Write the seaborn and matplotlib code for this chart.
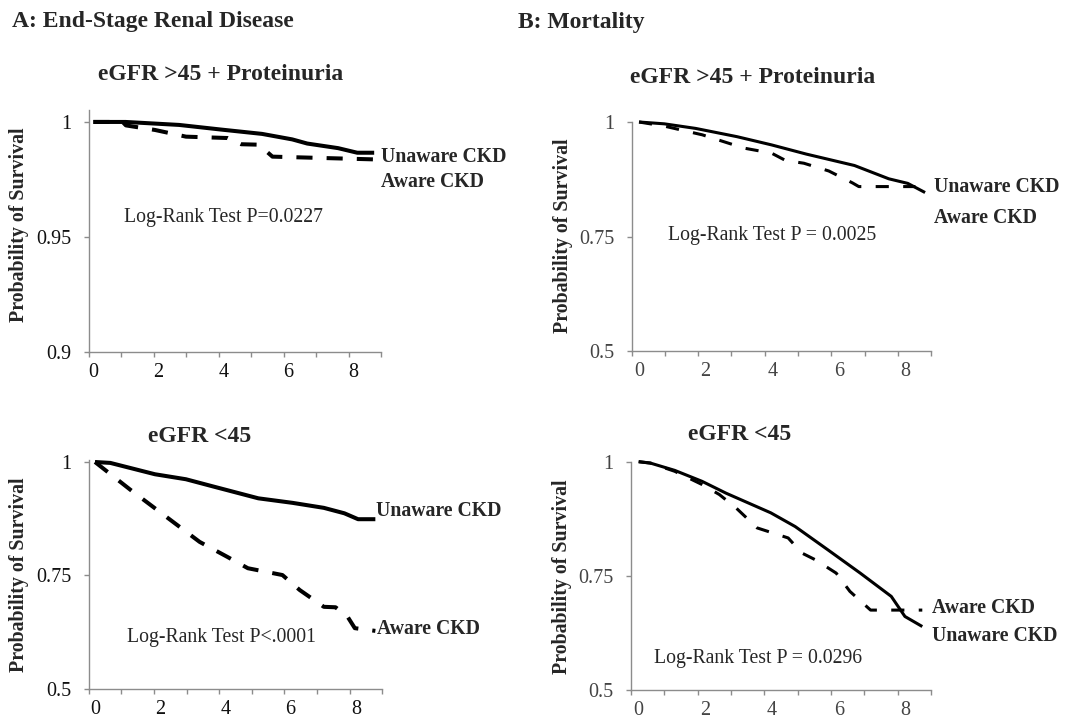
import matplotlib
matplotlib.use("Agg")
import matplotlib.pyplot as plt
import pandas as pd
import seaborn as sns
from matplotlib.ticker import FixedLocator, NullFormatter

sns.set_theme(style="white")
plt.rcParams["font.family"] = ["Liberation Serif", "DejaVu Serif"]

# ---------------- data (years, survival probability) ----------------
# A: ESRD, eGFR >45 + Proteinuria
esrd_prot_unaware_t = [0, 0.99, 2.64, 3.92, 5.19, 6.12, 6.58, 7.53, 8.12, 8.64]
esrd_prot_unaware_s = [1.0, 1.0, 0.9987, 0.9967, 0.9948, 0.9924, 0.9906, 0.9886, 0.9866, 0.9866]
esrd_prot_aware_t = [0, 0.9, 1.0, 1.9, 2.85, 4.13, 4.55, 5.09, 5.51, 8.65]
esrd_prot_aware_s = [1.0, 1.0, 0.9985, 0.9965, 0.9936, 0.9930, 0.9903, 0.9901, 0.9849, 0.9837]

# A: ESRD, eGFR <45
esrd_low_unaware_t = [0, 0.47, 1.84, 2.79, 3.63, 5.01, 6.06, 7.02, 7.65, 8.07, 8.6]
esrd_low_unaware_s = [1.0, 0.998, 0.973, 0.962, 0.946, 0.920, 0.910, 0.899, 0.887, 0.874, 0.874]
esrd_low_aware_t = [0, 1.10, 1.84, 2.58, 3.21, 4.06, 4.69, 5.75, 6.28, 7.02, 7.38, 7.75, 7.97, 8.6]
esrd_low_aware_s = [1.0, 0.938, 0.898, 0.858, 0.824, 0.791, 0.766, 0.751, 0.718, 0.681, 0.680, 0.659, 0.634, 0.628]

# B: Mortality, eGFR >45 + Proteinuria
mort_prot_unaware_t = [0, 0.76, 1.70, 2.94, 3.98, 5.02, 6.47, 7.50, 8.07, 8.59]
mort_prot_unaware_s = [1.0, 0.996, 0.986, 0.968, 0.950, 0.930, 0.905, 0.876, 0.866, 0.846]
mort_prot_aware_t = [0, 0.76, 1.90, 3.15, 3.98, 4.40, 4.95, 5.70, 6.41, 6.60, 8.3]
mort_prot_aware_s = [1.0, 0.991, 0.972, 0.943, 0.932, 0.916, 0.910, 0.893, 0.867, 0.859, 0.859]

# B: Mortality, eGFR <45
mort_low_unaware_t = [0, 0.35, 1.08, 1.90, 2.62, 3.96, 4.69, 5.67, 6.64, 7.57, 7.98, 8.50]
mort_low_unaware_s = [1.0, 0.997, 0.981, 0.957, 0.931, 0.888, 0.858, 0.807, 0.756, 0.705, 0.661, 0.639]
mort_low_aware_t = [0, 0.35, 1.08, 1.90, 2.42, 2.93, 3.55, 4.48, 4.89, 5.30, 5.92, 6.33, 6.95, 8.50]
mort_low_aware_s = [1.0, 0.997, 0.979, 0.950, 0.928, 0.898, 0.855, 0.833, 0.800, 0.785, 0.756, 0.716, 0.675, 0.675]

group_names = ["Unaware CKD", "Aware CKD"]
subtitles = ["eGFR >45 + Proteinuria", "eGFR >45 + Proteinuria", "eGFR <45", "eGFR <45"]
pvalue_texts = ["Log-Rank Test P=0.0227", "Log-Rank Test P = 0.0025",
                "Log-Rank Test P<.0001", "Log-Rank Test P = 0.0296"]
xtick_values = [0, 2, 4, 6, 8]
ytick_top_a = [0.9, 0.95, 1.0]
ytick_top_a_labels = ["0.9", "0.95", "1"]
ytick_std = [0.5, 0.75, 1.0]
ytick_std_labels = ["0.5", "0.75", "1"]
header_texts = ["A: End-Stage Renal Disease", "B: Mortality"]
ylabel_text = "Probability of Survival"

# ---------------- figure ----------------
W, H = 1069, 727
fig = plt.figure(figsize=(W / 100, H / 100), dpi=100)


def box(left, right, top, bottom):
    return [left / W, 1 - bottom / H, (right - left) / W, (bottom - top) / H]


panels = [
    dict(series=(esrd_prot_unaware_t, esrd_prot_unaware_s, esrd_prot_aware_t, esrd_prot_aware_s),
         rect=box(88.5, 381, 110, 351.7), x0=-0.15, ylim=(0.9, 1.0052),
         yt=ytick_top_a, ytl=ytick_top_a_labels, lw=2.9, dash=(4, 3.5), tcol="#111111",
         sub=(98, 80), ylab=(19, 225),
         lab_un=(8.86, 0.9847), lab_aw=(8.86, 0.9738), pv=(0.94, 0.9585)),
    dict(series=(mort_prot_unaware_t, mort_prot_unaware_s, mort_prot_aware_t, mort_prot_aware_s),
         rect=box(631.5, 931.2, 122, 351), x0=-0.226, ylim=(0.5, 1.0),
         yt=ytick_std, ytl=ytick_std_labels, lw=2.2, dash=(4.3, 4.7), tcol="#444444",
         sub=(630, 83), ylab=(563, 236),
         lab_un=(8.86, 0.858), lab_aw=(8.86, 0.790), pv=(0.86, 0.753)),
    dict(series=(esrd_low_unaware_t, esrd_low_unaware_s, esrd_low_aware_t, esrd_low_aware_s),
         rect=box(88.8, 382.2, 460, 689), x0=-0.19, ylim=(0.5, 1.0044),
         yt=ytick_std, ytl=ytick_std_labels, lw=2.9, dash=(4, 3.5), tcol="#111111",
         sub=(148, 442), ylab=(19, 575),
         lab_un=(8.62, 0.891), lab_aw=(8.65, 0.632), pv=(0.97, 0.613)),
    dict(series=(mort_low_unaware_t, mort_low_unaware_s, mort_low_aware_t, mort_low_aware_s),
         rect=box(630.9, 931.2, 461.7, 690), x0=-0.233, ylim=(0.5, 1.0),
         yt=ytick_std, ytl=ytick_std_labels, lw=2.2, dash=(4.3, 4.7), tcol="#444444",
         sub=(688, 440), ylab=(562, 577),
         lab_un=(8.79, 0.618), lab_aw=(8.79, 0.680), pv=(0.46, 0.569)),
]

axis_gray = "#8c8c8c"

for i, p in enumerate(panels):
    ax = fig.add_axes(p["rect"])
    tu, su, ta, sa = p["series"]
    df = pd.concat([
        pd.DataFrame({"t": tu, "s": su, "group": group_names[0]}),
        pd.DataFrame({"t": ta, "s": sa, "group": group_names[1]}),
    ], ignore_index=True)
    sns.lineplot(data=df, x="t", y="s", style="group", ax=ax, color="black",
                 dashes={group_names[0]: "", group_names[1]: p["dash"]},
                 linewidth=p["lw"], legend=False, estimator=None, sort=False)
    for ln in ax.lines:
        ln.set_clip_on(False)
        ln.set_solid_capstyle("butt")
        ln.set_dash_capstyle("butt")
        ln.set_solid_joinstyle("round")

    ax.set_xlim(p["x0"], p["x0"] + 9)
    ax.set_ylim(*p["ylim"])
    ax.set_xlabel("")
    ax.set_ylabel("")
    ax.grid(False)
    for side in ["top", "right"]:
        ax.spines[side].set_visible(False)
    for side in ["left", "bottom"]:
        ax.spines[side].set_color(axis_gray)
        ax.spines[side].set_linewidth(1.0)

    # x: labelled positions without marks; marks at unit intervals
    ax.xaxis.set_major_locator(FixedLocator(xtick_values))
    ax.set_xticklabels([str(v) for v in xtick_values])
    ax.xaxis.set_minor_locator(FixedLocator([p["x0"] + k for k in range(10)]))
    ax.xaxis.set_minor_formatter(NullFormatter())
    ax.tick_params(axis="x", which="major", length=0, pad=8, labelsize=14.5,
                   labelcolor=p["tcol"])
    ax.tick_params(axis="x", which="minor", length=3.8, width=1.0, color=axis_gray,
                   direction="out", bottom=True)

    ax.set_yticks(p["yt"])
    ax.set_yticklabels(p["ytl"])
    ax.tick_params(axis="y", which="major", length=3.8, width=1.0, color=axis_gray,
                   direction="out", pad=8.5, labelsize=14.5, labelcolor=p["tcol"], left=True)

    # subtitle
    fig.text(p["sub"][0] / W, 1 - p["sub"][1] / H, subtitles[i], fontsize=17,
             fontweight="bold", ha="left", va="baseline")
    # y label
    fig.text(p["ylab"][0] / W, 1 - p["ylab"][1] / H, ylabel_text, fontsize=14.3,
             fontweight="bold", rotation=90, ha="center", va="center")
    # curve labels
    ax.text(*p["lab_un"], group_names[0], fontsize=14.2, fontweight="bold",
            ha="left", va="center", clip_on=False)
    ax.text(*p["lab_aw"], group_names[1], fontsize=14.2, fontweight="bold",
            ha="left", va="center", clip_on=False)
    # log-rank text
    ax.text(*p["pv"], pvalue_texts[i], fontsize=14.2, ha="left", va="center")

fig.text(12.4 / W, 1 - 27 / H, header_texts[0], fontsize=17, fontweight="bold",
         ha="left", va="baseline")
fig.text(518 / W, 1 - 28 / H, header_texts[1], fontsize=17, fontweight="bold",
         ha="left", va="baseline")

fig.savefig("out.png", dpi=100)
